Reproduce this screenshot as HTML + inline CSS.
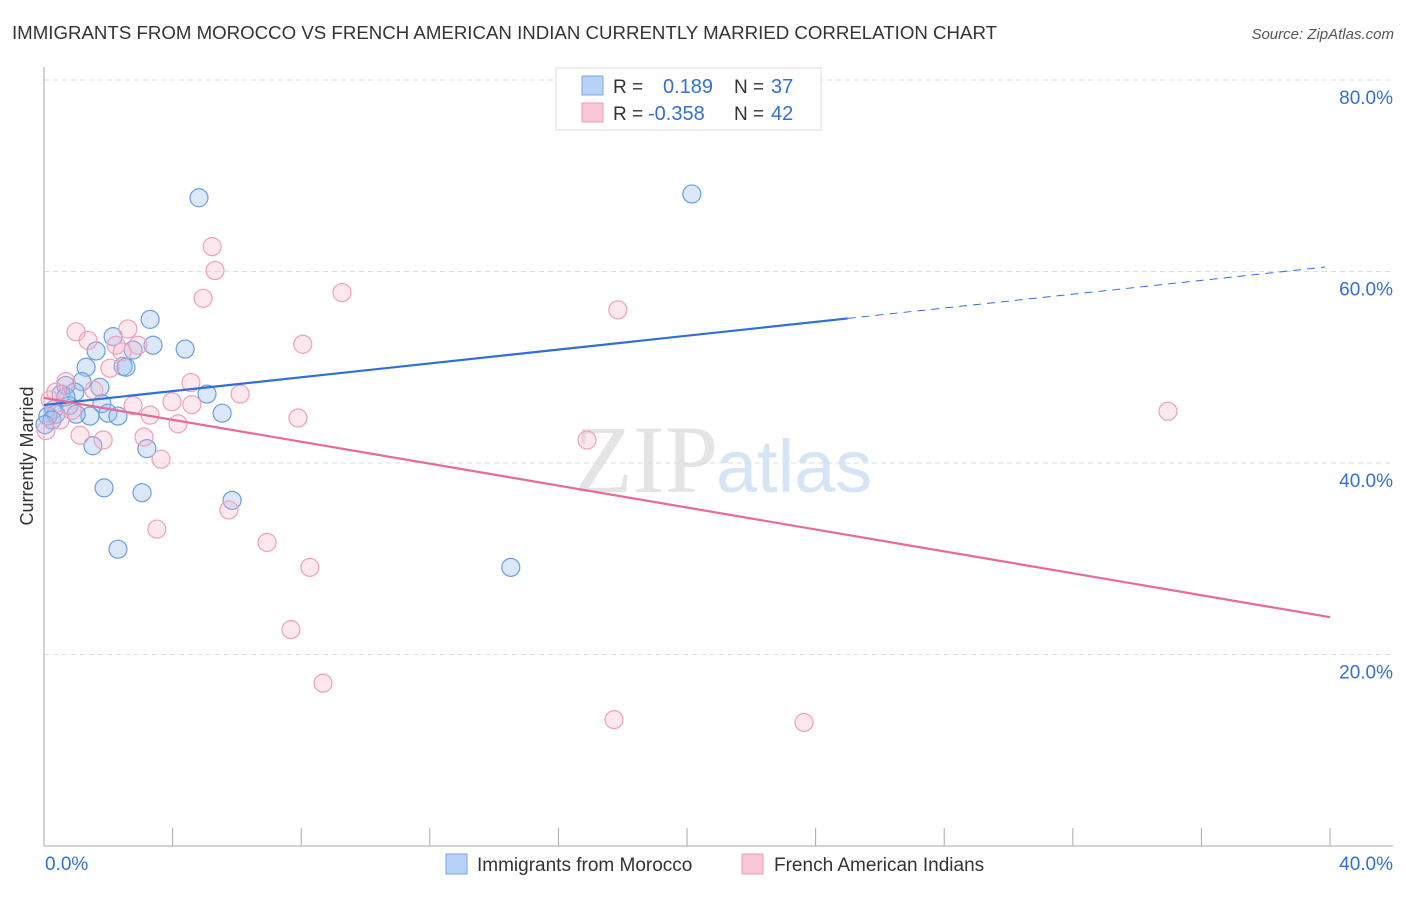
<!DOCTYPE html>
<html><head><meta charset="utf-8"><style>
body{margin:0;background:#fff;font-family:"Liberation Sans",sans-serif}
</style></head><body>
<svg id="c" width="1406" height="892" xmlns="http://www.w3.org/2000/svg">
<text x="12" y="39" font-size="18" fill="#333" textLength="985" lengthAdjust="spacingAndGlyphs">IMMIGRANTS FROM MOROCCO VS FRENCH AMERICAN INDIAN CURRENTLY MARRIED CORRELATION CHART</text>
<text x="1394" y="39" font-size="15" fill="#555" font-style="italic" text-anchor="end">Source: ZipAtlas.com</text>
<text x="718" y="492" font-size="96" fill="#e4e4e4" text-anchor="end" font-family="Liberation Serif">ZIP</text>
<text x="716" y="492" font-size="74" fill="#d6e4f5">atlas</text>
<g id="grid"></g><g id="pts"></g><g id="lines"></g>
<text transform="translate(33,456) rotate(-90)" font-size="18" fill="#333" text-anchor="middle">Currently Married</text>
<g>
<rect x="556" y="68" width="265" height="62" fill="#fff" stroke="#ddd"/>
<rect x="582" y="76" width="21" height="19" fill="#b8d3f5" stroke="#7aa6e0"/>
<rect x="582" y="103" width="21" height="19" fill="#f9c8d6" stroke="#f09ab4"/>
<text x="613" y="93" font-size="19" fill="#333">R =</text>
<text x="663" y="93" font-size="20" fill="#3370d0">0.189</text>
<text x="734" y="93" font-size="19" fill="#333">N =</text>
<text x="771" y="93" font-size="20" fill="#3370d0">37</text>
<text x="613" y="120" font-size="19" fill="#333">R =</text>
<text x="648" y="120" font-size="20" fill="#3370d0">-0.358</text>
<text x="734" y="120" font-size="19" fill="#333">N =</text>
<text x="771" y="120" font-size="20" fill="#3370d0">42</text>
</g>
<g>
<rect x="446" y="854" width="21" height="20" fill="#b8d3f5" stroke="#7aa6e0"/>
<text x="477" y="871" font-size="19" fill="#333">Immigrants from Morocco</text>
<rect x="742" y="854" width="21" height="20" fill="#f9c8d6" stroke="#f09ab4"/>
<text x="774" y="871" font-size="19" fill="#333">French American Indians</text>
</g>
</svg>
<script>
const blueX=[4.82,20.15,3.30,2.15,3.39,4.39,1.62,2.77,1.31,2.46,2.55,1.74,1.18,0.68,0.96,0.53,0.31,0.78,1.80,1.99,2.30,1.43,1.00,5.54,5.07,0.37,0.12,1.52,3.20,1.87,3.05,5.85,2.30,14.52,0.68,0.25,0.03];
const blueY=[67.7,68.1,55.0,53.2,52.3,51.9,51.7,51.8,50.0,50.1,50.0,47.9,48.5,48.1,47.4,47.2,45.6,46.0,46.2,45.2,44.9,44.9,45.1,45.2,47.2,45.1,44.9,41.8,41.5,37.4,36.9,36.1,31.0,29.1,46.9,44.5,44.0];
const pinkX=[5.23,5.32,4.95,9.27,17.85,1.00,2.61,1.37,2.24,2.92,8.05,2.43,2.05,0.68,4.57,1.55,6.10,3.98,2.77,4.60,3.30,7.90,4.17,1.12,3.11,1.84,16.89,3.64,34.96,5.75,3.51,6.94,8.27,7.68,8.68,17.73,23.64,0.37,0.19,0.87,0.06,0.50];
const pinkY=[62.6,60.1,57.2,57.8,56.0,53.7,54.0,52.8,52.3,52.3,52.4,51.6,49.9,48.5,48.4,47.6,47.2,46.4,46.0,46.1,45.0,44.7,44.1,42.9,42.7,42.4,42.4,40.4,45.4,35.1,33.1,31.7,29.1,22.6,17.0,13.2,12.9,47.4,46.6,45.5,43.4,44.5];
const yTicks=[20,40,60,80];
const xTickCount=10;
const blueTrend=[46.06,55.1]; // y at x=0 and x=25
const pinkTrend=[46.8,23.9];  // y at x=0 and x=40
const NS="http://www.w3.org/2000/svg";
const X=v=>44+v*(1286/40), Y=v=>846-v*9.575;
function el(t,a,p){const e=document.createElementNS(NS,t);for(const k in a)e.setAttribute(k,a[k]);p.appendChild(e);return e;}
const g=document.getElementById('grid');
yTicks.forEach(t=>{
 const l=el('line',{x1:44,x2:1393,y1:Y(t),y2:Y(t),stroke:'#ddd','stroke-dasharray':'5,4'},g);
 
 
 const tx=el('text',{x:1393,y:Y(t)+24,'font-size':19,fill:'#3370d0','text-anchor':'end'},g);tx.textContent=t.toFixed(1)+'%';
 
 
});
const ax=el('line',{x1:44,x2:44,y1:67,y2:846,stroke:'#aaa'},g);


const bx=el('line',{x1:44,x2:1393,y1:846,y2:846,stroke:'#aaa'},g);


for(let i=1;i<=xTickCount;i++){const v=i*4;el('line',{x1:X(v),x2:X(v),y1:828,y2:846,stroke:'#aaa'},g);}
const t0=el('text',{x:45,y:870,'font-size':19,fill:'#3370d0'},g);t0.textContent='0.0%';


const t1=el('text',{x:1393,y:870,'font-size':19,fill:'#3370d0','text-anchor':'end'},g);t1.textContent='40.0%';


const p=document.getElementById('pts');
blueX.forEach((x,i)=>{const c=el('circle',{cx:X(x),cy:Y(blueY[i]),r:9,fill:'rgba(150,190,240,0.35)',stroke:'#6a9ee0','stroke-width':1.2},p);
 
 });
pinkX.forEach((x,i)=>{const c=el('circle',{cx:X(x),cy:Y(pinkY[i]),r:9,fill:'rgba(248,180,200,0.3)',stroke:'#f0a0b8','stroke-width':1.2},p);
 
 });
const L=document.getElementById('lines');
const bs=(blueTrend[1]-blueTrend[0])/25, bf=x=>blueTrend[0]+bs*x;
const b1=el('line',{x1:X(0),y1:Y(bf(0)),x2:X(25),y2:Y(bf(25)),stroke:'#2f6fd6','stroke-width':2.2},L);


const b2=el('line',{x1:X(25),y1:Y(bf(25)),x2:X(39.85),y2:Y(bf(39.85)),stroke:'#2f6fd6','stroke-width':1,'stroke-dasharray':'8,6'},L);


const pl=el('line',{x1:X(0),y1:Y(pinkTrend[0]),x2:X(40),y2:Y(pinkTrend[1]),stroke:'#e8699a','stroke-width':2.2},L);


</script>
</body></html>
